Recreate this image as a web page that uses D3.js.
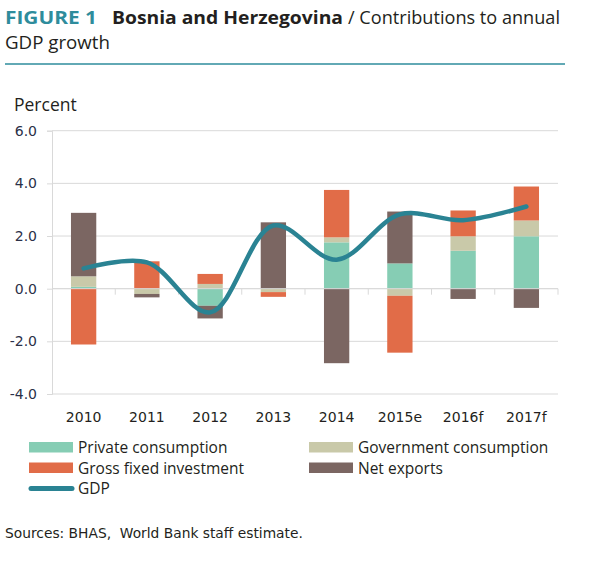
<!DOCTYPE html>
<html><head><meta charset="utf-8">
<script src="https://cdn.jsdelivr.net/npm/d3@7"></script>
<style>body{margin:0;background:#fff}svg{display:block}</style>
</head><body>
<svg id="c" width="600" height="567"></svg>
<script>
const years = ["2010","2011","2012","2013","2014","2015e","2016f","2017f"];
const privateCons = [0.07, 0.0, -0.65, 0.0, 1.76, 0.96, 1.44, 1.99];
const govCons     = [0.40, -0.20, 0.18, -0.13, 0.19, -0.27, 0.55, 0.60];
const grossInv    = [-2.12, 1.04, 0.38, -0.18, 1.80, -2.16, 0.98, 1.29];
const netExports  = [2.41, -0.13, -0.48, 2.52, -2.83, 1.97, -0.39, -0.73];
const gdp         = [0.77, 1.0, -0.9, 2.4, 1.1, 2.82, 2.6, 3.12];
const yTicks = [-4, -2, 0, 2, 4, 6];
const seriesNames = ["Private consumption","Government consumption","Gross fixed investment","Net exports"];
const colors = ["#86cdb4","#c9c9a9","#e16c48","#7b6662"];
const gdpColor = "#2a8393";

const svg = d3.select("#c");
svg.append("rect").attr("width",600).attr("height",567).attr("fill","#fff");

// Title
const t1 = svg.append("text").attr("x",5).attr("y",24).attr("font-family","Open Sans").attr("font-size",18);
t1.append("tspan").attr("fill","#2e8c9c").attr("font-weight","bold").attr("font-size",18.5)
  .attr("textLength",92).attr("lengthAdjust","spacingAndGlyphs").text("FIGURE 1");
t1.append("tspan").attr("x",112).attr("fill","#231f20").attr("font-weight","bold").attr("font-size",18.5)
  .attr("textLength",231).attr("lengthAdjust","spacingAndGlyphs").text("Bosnia and Herzegovina");
t1.append("tspan").attr("x",348).attr("fill","#231f20")
  .attr("textLength",212).attr("lengthAdjust","spacingAndGlyphs").text("/ Contributions to annual");
svg.append("text").attr("x",5).attr("y",49).attr("font-family","Open Sans").attr("font-size",18).attr("fill","#231f20")
  .attr("textLength",105).attr("lengthAdjust","spacingAndGlyphs").text("GDP growth");
svg.append("line").attr("x1",5).attr("x2",565).attr("y1",64).attr("y2",64).attr("stroke","#2e8c9c").attr("stroke-width",1.5);

const x = d3.scaleBand().domain(years).range([52,558]).paddingInner(0.6).paddingOuter(0.3);
const y = d3.scaleLinear().domain([-4,6]).range([394,130.7]);

svg.append("text").attr("x",14).attr("y",110.5).attr("font-family","Open Sans").attr("font-size",17.5).attr("fill","#231f20").text("Percent");

// grid
const g = svg.append("g");
g.selectAll("line.grid").data(yTicks).join("line")
  .attr("x1",52).attr("x2",558).attr("y1",d=>y(d)).attr("y2",d=>y(d))
  .attr("stroke","#d9d9d9").attr("stroke-width",1);
// left axis
const yAxis = d3.axisLeft(y).tickValues(yTicks).tickFormat(d=>d.toFixed(1)).tickSize(5).tickPadding(10);
const ya = svg.append("g").attr("transform","translate(52,0)").call(yAxis);
ya.select(".domain").attr("stroke","#d9d9d9");
ya.selectAll(".tick line").attr("stroke","#d9d9d9");
ya.selectAll("text").attr("font-family","DejaVu Sans").attr("font-size",14).attr("fill","#2b3048");

// stacks
const data = years.map((yr,i)=>({yr, vals:[privateCons[i],govCons[i],grossInv[i],netExports[i]]}));
const bars = svg.append("g");
data.forEach(d=>{
  let pos=0, neg=0;
  d.vals.forEach((v,k)=>{
    let y0,y1;
    if(v>=0){y0=pos; y1=pos+v; pos=y1;} else {y0=neg; y1=neg+v; neg=y1;}
    bars.append("rect").attr("x",x(d.yr)).attr("width",x.bandwidth())
      .attr("y",y(Math.max(y0,y1))).attr("height",Math.abs(y(y0)-y(y1)))
      .attr("fill",colors[k]);
  });
});

// zero line + category ticks
svg.append("line").attr("x1",52).attr("x2",558).attr("y1",y(0)).attr("y2",y(0)).attr("stroke","#d9d9d9");
const xAxis = d3.axisBottom(x).tickSize(0).tickPadding(0);
const step = x.step();
svg.append("g").selectAll("line").data(d3.range(1,9)).join("line")
  .attr("x1",i=>52+i*step).attr("x2",i=>52+i*step).attr("y1",y(0)).attr("y2",y(0)+6)
  .attr("stroke","#d9d9d9");
const xa = svg.append("g").attr("transform","translate(0,421.5)").call(xAxis);
xa.select(".domain").remove();
xa.selectAll("text").attr("font-family","DejaVu Sans").attr("font-size",14).attr("fill","#231f20").attr("dy","0");

// GDP line
const line = d3.line().x((d,i)=>x(years[i])+x.bandwidth()/2).y(d=>y(d)).curve(d3.curveCatmullRom.alpha(0.5));
svg.append("path").datum(gdp).attr("d",line).attr("fill","none").attr("stroke",gdpColor).attr("stroke-width",4.5).attr("stroke-linecap","round");

// legend
const leg = svg.append("g").attr("font-family","Open Sans").attr("font-size",15.5).attr("fill","#231f20");
const legPos = [[29,442],[309,442],[29,462.5],[309,462.5]];
seriesNames.forEach((n,k)=>{
  leg.append("rect").attr("x",legPos[k][0]).attr("y",legPos[k][1]).attr("width",44).attr("height",10.5).attr("fill",colors[k]);
  leg.append("text").attr("x",legPos[k][0]+49).attr("y",legPos[k][1]+11).text(n);
});
leg.append("line").attr("x1",31).attr("x2",72).attr("y1",488.5).attr("y2",488.5).attr("stroke",gdpColor).attr("stroke-width",5).attr("stroke-linecap","round");
leg.append("text").attr("x",78).attr("y",494).text("GDP");

svg.append("text").attr("x",5).attr("y",538).attr("font-family","DejaVu Sans").attr("font-size",13.8).attr("fill","#231f20").attr("xml:space","preserve").text("Sources: BHAS,  World Bank staff estimate.");
</script>
</body></html>
